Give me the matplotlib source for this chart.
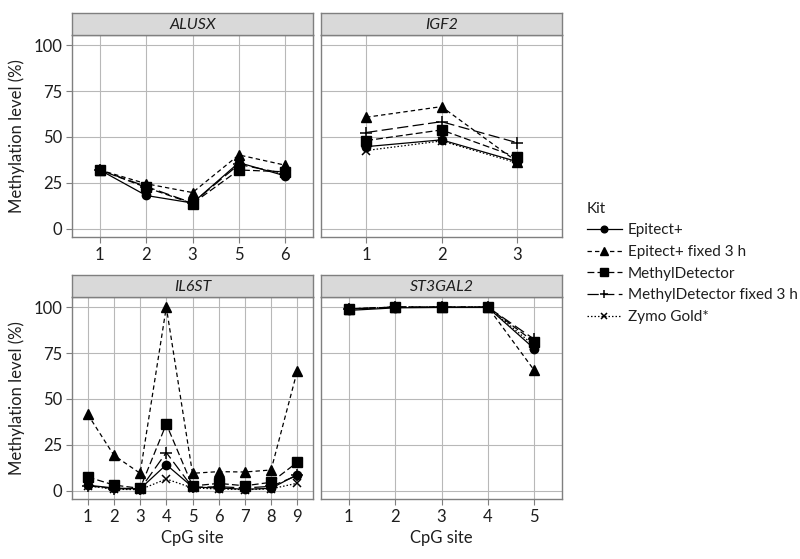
import matplotlib
matplotlib.use("Agg")
import matplotlib.pyplot as plt
import numpy as np

plt.rcParams['font.family'] = ['Lato', 'DejaVu Sans']
plt.rcParams['font.size'] = 12

nan = np.nan
kits = ['Epitect+', 'Epitect+ fixed 3 h', 'MethylDetector', 'MethylDetector fixed 3 h', 'Zymo Gold*']

# CpG sites per gene
alusx_sites = ['1', '2', '3', '5', '6']
igf2_sites = ['1', '2', '3']
il6st_sites = ['1', '2', '3', '4', '5', '6', '7', '8', '9']
st3gal2_sites = ['1', '2', '3', '4', '5']

# methylation level (%) per kit, in kit order
alusx_vals = [
    [32, 18.1, 14, 36, 28.8],
    [32, 24.5, 19.7, 40.2, 34.6],
    [32, 22.5, 13.7, 32, 31],
    [32, 23, 14, 35, 30],
    [nan, nan, nan, nan, nan],
]
igf2_vals = [
    [44.7, 48.4, 36.6],
    [60.7, 66.5, 36.6],
    [48, 53.8, 39],
    [52.4, 58.3, 46.9],
    [42.6, 47.8, 35.9],
]
il6st_vals = [
    [3, 1.5, 1, 14.2, 2, 1.5, 0.8, 1.3, 8.8],
    [41.6, 19.3, 9.5, 100, 9.5, 10.4, 10.2, 11.3, 65.3],
    [7.5, 3.1, 1.3, 36.3, 2.6, 4, 2.7, 4.6, 15.5],
    [2.7, 1.2, 0.8, 20.8, 1.8, 2.2, 1.5, 2.4, 8.3],
    [2.7, 0.8, 0.6, 6.4, 1.5, 1.0, 0.6, 1.0, 4.1],
]
st3gal2_vals = [
    [98.2, 99.6, 99.8, 99.8, 77.4],
    [99, 100, 100, 100, 65.6],
    [99, 100, 100, 100, 81],
    [99, 100, 100, 100, 82.5],
    [99, 100, 100, 100, 79],
]

styles = [
    dict(linestyle='-', marker='o', ms=6),
    dict(linestyle=(0, (3.5, 2.5)), marker='^', ms=7),
    dict(linestyle=(0, (5.5, 2.5)), marker='s', ms=6.5),
    dict(linestyle=(0, (9, 3.5)), marker='+', ms=8, mew=1.1),
    dict(linestyle=(0, (1.2, 1.6)), marker='x', ms=5.5, mew=1.1),
]

W, H = 800, 559
fig = plt.figure(figsize=(W / 100, H / 100), dpi=100)


def rect(x0, y0, x1, y1):
    return [x0 / W, 1 - y1 / H, (x1 - x0) / W, (y1 - y0) / H]


panels = [
    ('ALUSX', alusx_sites, alusx_vals, (72, 35, 313, 237), True, False),
    ('IGF2', igf2_sites, igf2_vals, (321, 35, 562, 237), False, False),
    ('IL6ST', il6st_sites, il6st_vals, (72, 297, 313, 499), True, True),
    ('ST3GAL2', st3gal2_sites, st3gal2_vals, (321, 297, 562, 499), False, True),
]

grid_c = '#b8b8b8'
border_c = '#7f7f7f'
text_c = '#1e1e1e'
handles = []
for name, sites, vals, (x0, y0, x1, y1), show_y, show_xlab in panels:
    ax = fig.add_axes(rect(x0, y0, x1, y1))
    x = np.arange(len(sites))
    for k, (v, st) in enumerate(zip(vals, styles)):
        ln, = ax.plot(x, v, color='black', lw=0.9, label=kits[k],
                      dash_capstyle='butt', **st)
        if name == 'IGF2':
            handles.append(ln)
    ax.set_xlim(-0.6, len(sites) - 0.4)
    ax.set_ylim(-4.5, 105.5)
    ax.set_xticks(x)
    ax.set_xticklabels(sites)
    ax.set_yticks([0, 25, 50, 75, 100])
    ax.grid(True, color=grid_c, lw=0.8)
    ax.set_axisbelow(True)
    for s in ax.spines.values():
        s.set_color(border_c)
        s.set_linewidth(1.0)
    ax.tick_params(colors=border_c, labelcolor=text_c, length=4, width=0.8,
                   labelsize=12, pad=3)
    if not show_y:
        ax.set_yticklabels([])
        ax.tick_params(axis='y', length=0)
    else:
        ax.set_ylabel('Methylation level (%)', color=text_c, fontsize=12, labelpad=6)
    if show_xlab:
        ax.set_xlabel('CpG site', color=text_c, fontsize=12, labelpad=4)

    sax = fig.add_axes(rect(x0, y0 - 22, x1, y0))
    sax.set_facecolor('#d9d9d9')
    sax.set_xticks([])
    sax.set_yticks([])
    for s in sax.spines.values():
        s.set_color(border_c)
        s.set_linewidth(1.0)
    sax.text(0.5, 0.47, name, style='italic', ha='center', va='center',
             color=text_c, fontsize=11.5, transform=sax.transAxes)

leg = fig.legend(handles=handles, title='Kit', loc='upper left',
                 bbox_to_anchor=(573 / W, 1 - 188 / H), frameon=False,
                 fontsize=11, title_fontsize=11, handlelength=2.3,
                 handletextpad=0.4, labelspacing=0.5, alignment='left',
                 markerscale=0.8)
for t in leg.get_texts():
    t.set_color(text_c)
leg.get_title().set_color(text_c)

fig.savefig('out.png', dpi=100)
